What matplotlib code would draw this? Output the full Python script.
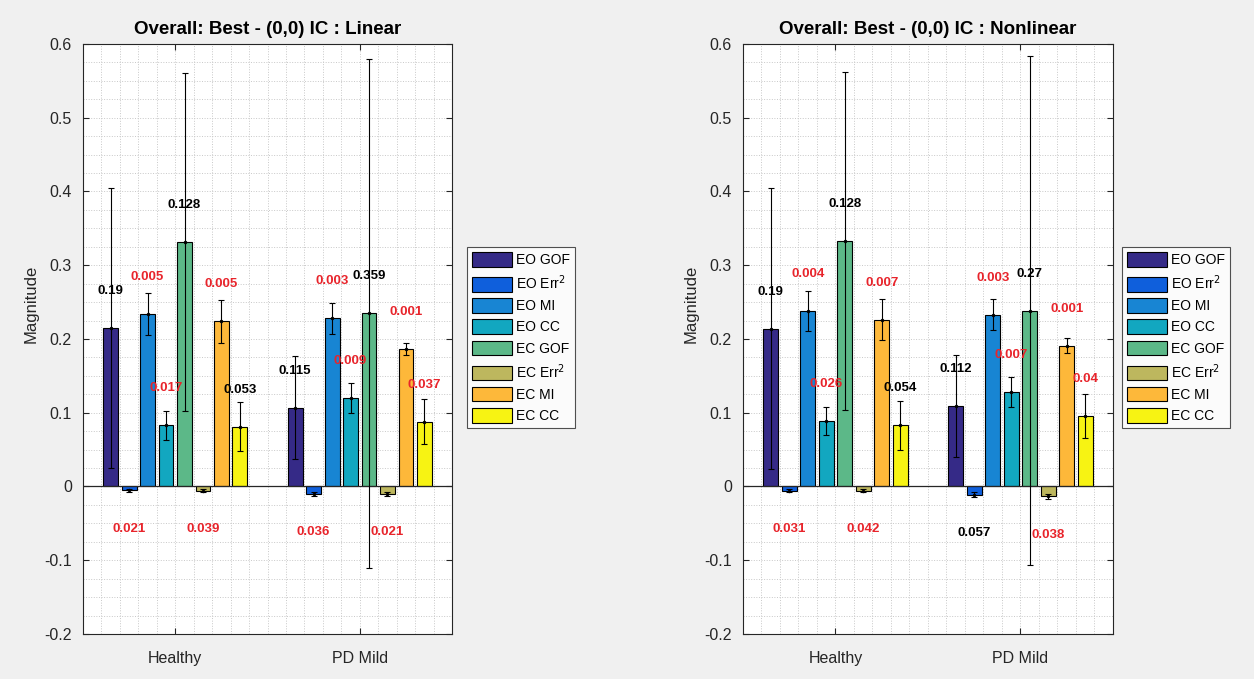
import matplotlib.pyplot as plt
from matplotlib.patches import Patch
from matplotlib.ticker import MultipleLocator, FuncFormatter, FixedLocator
import numpy as np

plt.rcParams['font.family'] = ['Liberation Sans', 'DejaVu Sans']

categories = ['Healthy', 'PD Mild']
series = ['EO GOF', 'EO Err$^2$', 'EO MI', 'EO CC',
          'EC GOF', 'EC Err$^2$', 'EC MI', 'EC CC']
colors = ['#352a87', '#0f5fdc', '#1885d3', '#12a7c0',
          '#5cb888', '#bdb75e', '#fdb83a', '#f7f313']

# linear model: mean, error, p-value per group
lin_means = [[0.215, -0.005, 0.234, 0.083, 0.332, -0.006, 0.224, 0.081],
             [0.107, -0.010, 0.228, 0.120, 0.235, -0.010, 0.186, 0.088]]
lin_err = [[0.190, 0.002, 0.028, 0.020, 0.229, 0.002, 0.029, 0.033],
           [0.070, 0.003, 0.021, 0.020, 0.345, 0.003, 0.008, 0.030]]
lin_p = [['0.19', '0.021', '0.005', '0.017', '0.128', '0.039', '0.005', '0.053'],
         ['0.115', '0.036', '0.003', '0.009', '0.359', '0.021', '0.001', '0.037']]

# nonlinear model
nonlin_means = [[0.214, -0.006, 0.238, 0.089, 0.333, -0.006, 0.226, 0.083],
                [0.109, -0.011, 0.233, 0.128, 0.238, -0.0135, 0.191, 0.096]]
nonlin_err = [[0.190, 0.002, 0.027, 0.019, 0.229, 0.002, 0.028, 0.033],
              [0.069, 0.003, 0.021, 0.020, 0.345, 0.003, 0.010, 0.030]]
nonlin_p = [['0.19', '0.031', '0.004', '0.026', '0.128', '0.042', '0.007', '0.054'],
            ['0.112', '0.057', '0.003', '0.007', '0.27', '0.038', '0.001', '0.04']]

AX_COLOR = '#262626'


def draw_panel(ax, means, errs, pvals, title):
    n = len(series)
    width = 0.08
    offsets = (np.arange(n) - (n - 1) / 2) * 0.1
    x = np.arange(1, len(categories) + 1)
    means = np.array(means)
    errs = np.array(errs)

    for j in range(n):
        xs = x + offsets[j]
        ax.bar(xs, means[:, j], width, color=colors[j], edgecolor='black',
               linewidth=0.8, zorder=3)
        ax.errorbar(xs, means[:, j], yerr=errs[:, j], fmt='.', color='black',
                    markersize=3, elinewidth=0.8, capsize=2.5, capthick=0.8,
                    zorder=4)
        # p-value above positive bars, below negative ones; red when significant
        for i in range(len(categories)):
            m = means[i, j]
            p = pvals[i][j]
            ty = m + 0.05 if m >= 0 else m - 0.052
            col = '#e8242b' if float(p) < 0.05 else 'black'
            ax.text(xs[i], ty, p, ha='center', va='center', fontsize=9.5,
                    fontweight='bold', color=col, zorder=5)

    ax.axhline(0, color=AX_COLOR, linewidth=0.9, zorder=3)
    ax.set_xlim(0.5, 2.5)
    ax.set_ylim(-0.2, 0.6)
    ax.xaxis.set_major_locator(FixedLocator(x))
    ax.set_xticklabels(categories)
    ax.xaxis.set_minor_locator(FixedLocator(np.arange(0.5, 2.51, 0.1)))
    ax.yaxis.set_major_locator(MultipleLocator(0.1))
    ax.yaxis.set_minor_locator(MultipleLocator(0.025))
    ax.yaxis.set_major_formatter(FuncFormatter(lambda v, _: f'{v:g}' if abs(v) > 1e-9 else '0'))
    ax.grid(which='both', linestyle=':', color='#c8c8c8', linewidth=0.7, zorder=0)
    ax.tick_params(which='major', direction='in', length=4, top=True, right=True,
                   labelsize=11.5, colors=AX_COLOR)
    ax.tick_params(axis='y', pad=8)
    ax.tick_params(axis='x', pad=12)
    ax.tick_params(which='minor', length=0)
    for s in ax.spines.values():
        s.set_color(AX_COLOR)
        s.set_linewidth(0.8)
    ax.set_ylabel('Magnitude', fontsize=12, color=AX_COLOR)
    ax.yaxis.set_label_coords(-0.12, 0.56)
    ax.set_title(title, fontsize=13.5, fontweight='bold', pad=7)


fig = plt.figure(figsize=(12.54, 6.79), dpi=100)
fig.patch.set_facecolor('#f0f0f0')

ax1 = fig.add_axes([0.0662, 0.0663, 0.2943, 0.869])
ax2 = fig.add_axes([0.5925, 0.0663, 0.2950, 0.869])

draw_panel(ax1, lin_means, lin_err, lin_p, 'Overall: Best - (0,0) IC : Linear')
draw_panel(ax2, nonlin_means, nonlin_err, nonlin_p, 'Overall: Best - (0,0) IC : Nonlinear')

handles = [Patch(facecolor=c, edgecolor='black', linewidth=0.8) for c in colors]
for left in (0.3724, 0.8947):
    leg = fig.legend(handles, series, loc='upper left', bbox_to_anchor=(left, 0.636),
                     fontsize=10, frameon=True, fancybox=False, handlelength=2.9,
                     handleheight=1.25, handletextpad=0.3, labelspacing=0.45,
                     borderpad=0.35, borderaxespad=0)
    leg.get_frame().set_edgecolor(AX_COLOR)
    leg.get_frame().set_linewidth(0.8)

fig.savefig('out.png', dpi=100, facecolor=fig.get_facecolor())
